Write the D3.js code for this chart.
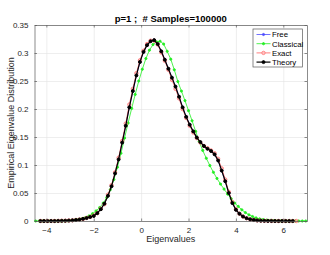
<html>
<head>
<meta charset="UTF-8"/>
<script src="https://d3js.org/d3.v7.min.js"></script>
<style>
body { margin: 0; background: #fff; }
svg { display: block; font-family: 'Liberation Sans', Arial, sans-serif; }
.grid line { stroke: #e3e3e3; stroke-width: 0.6; }
.grid path { stroke-width: 0; }
.ax path, .ax line { stroke: #5a5a5a; stroke-width: 0.7; }
.ax text { fill: #262626; font-size: 8px; }
text.title { white-space: pre; }
</style>
</head>
<body>
<svg width="330" height="255"></svg>
<script>
// bin centres for the sampled distributions
const binX = [-4.25,-4.10,-3.95,-3.80,-3.65,-3.50,-3.35,-3.20,-3.05,-2.90,-2.75,-2.60,-2.45,-2.30,-2.15,-2.00,
  -1.85,-1.70,-1.55,-1.40,-1.25,-1.10,-0.95,-0.80,-0.65,-0.50,-0.35,-0.20,-0.05,0.10,0.25,0.40,0.55,0.70,0.85,
  1.00,1.15,1.30,1.45,1.60,1.75,1.90,2.05,2.20,2.35,2.50,2.65,2.80,2.95,3.10,3.25,3.40,3.55,3.70,3.85,4.00,
  4.15,4.30,4.45,4.60,4.75,4.90,5.05,5.20,5.35,5.50,5.65,5.80,5.95,6.10,6.25,6.40,6.55];

const theory = [0,0,0,0,0,0.0002,0.0003,0.0005,0.0008,0.0012,0.0018,0.0026,0.0038,0.0053,0.0072,0.009,
  0.014,0.021,0.031,0.045,0.062,0.085,0.110,0.140,0.170,0.203,0.232,0.260,0.284,0.302,0.314,0.321,0.323,0.316,0.303,
  0.288,0.272,0.256,0.240,0.222,0.203,0.186,0.172,0.160,0.149,0.141,0.134,0.129,0.125,0.119,0.108,0.090,0.071,0.050,0.032,0.020,
  0.013,0.008,0.005,0.003,0.002,0.001,0.0006,0.0003,0.0002,0.0001,0,0,0,0,0,0,null];

const free = theory;

const exact = [0,0,0,0,0,0.0002,0.0004,0.0005,0.0009,0.0012,0.0019,0.0027,0.0037,0.0055,0.0073,0.010,
  0.014,0.022,0.030,0.047,0.064,0.087,0.113,0.143,0.174,0.208,0.236,0.264,0.287,0.304,0.316,0.322,0.322,0.315,0.301,
  0.286,0.270,0.252,0.236,0.219,0.200,0.184,0.170,0.158,0.148,0.140,0.134,0.130,0.126,0.121,0.111,0.094,0.074,0.052,0.034,0.021,
  0.013,0.008,0.005,0.003,0.002,0.001,0.0006,0.0003,0.0002,0.0001,0,0,0,0,0,0,0];

const classX = [-4.45,-4.30,-4.15,-4.00,-3.85,-3.70,-3.55,-3.40,-3.25,-3.10,-2.95,-2.80,-2.65,-2.50,-2.35,-2.20,
  -2.05,-1.90,-1.75,-1.60,-1.45,-1.30,-1.15,-1.00,-0.85,-0.70,-0.55,-0.40,-0.25,-0.10,0.05,0.20,0.35,0.50,0.65,
  0.80,0.95,1.10,1.25,1.40,1.55,1.70,1.85,2.00,2.15,2.30,2.45,2.60,2.75,2.90,3.05,3.20,3.35,3.50,3.65,3.80,
  3.95,4.10,4.25,4.40,4.55,4.70,4.85,5.00,5.15,5.30,5.45,5.60,5.75,5.90,6.05,6.20,6.35,6.50,6.65,6.80,6.95];

const classical = [0,0,0,0,0,0,0,0.0001,0.0002,0.0005,0.001,0.0016,0.0026,0.004,0.006,0.009,
  0.013,0.018,0.024,0.032,0.042,0.056,0.074,0.096,0.121,0.148,0.175,0.201,0.226,0.250,0.271,0.290,0.305,0.315,0.320,
  0.321,0.316,0.303,0.289,0.270,0.249,0.232,0.215,0.197,0.179,0.160,0.142,0.126,0.112,0.099,0.087,0.076,0.066,0.057,0.048,0.040,
  0.032,0.026,0.020,0.015,0.011,0.008,0.0055,0.0037,0.0025,0.0016,0.001,0.0006,0.0004,0.0002,0,0,0,0,0,0,0];

const xTicks = [-4, -2, 0, 2, 4, 6];
const yTicks = [0, 0.05, 0.1, 0.15, 0.2, 0.25, 0.3, 0.35];
const legendNames = ['Free', 'Classical', 'Exact', 'Theory'];

const svg = d3.select('svg');
const pLeft = 34.5, pRight = 307, pTop = 25, pBottom = 221;

const x = d3.scaleLinear().domain([-4.5, 7]).range([pLeft, pRight]);
const y = d3.scaleLinear().domain([0, 0.35]).range([pBottom, pTop]);

// grid
svg.append('g').attr('class', 'grid')
  .attr('transform', `translate(0,${pBottom})`)
  .call(d3.axisBottom(x).tickValues(xTicks).tickSize(-(pBottom - pTop)).tickFormat(''));
svg.append('g').attr('class', 'grid')
  .attr('transform', `translate(${pLeft},0)`)
  .call(d3.axisLeft(y).tickValues(yTicks).tickSize(-(pRight - pLeft)).tickFormat(''));

const series = [
  {xs: binX, ys: free, color: '#4d4dff', w: 0.8, r: 1.1, fill: '#4d4dff', op: 1},
  {xs: classX, ys: classical, color: '#22ee22', w: 0.8, r: 1.1, fill: '#22ee22', op: 1},
  {xs: binX, ys: exact, color: '#ff5555', w: 1.0, r: 1.7, fill: '#ffb0b0', op: 0.75},
  {xs: binX, ys: theory, color: '#000', w: 1.2, r: 1.5, fill: '#000', op: 1}
];

const line = d3.line()
  .x(d => x(d[0])).y(d => y(d[1]));

series.forEach(s => {
  const pts = s.xs.map((v, i) => [v, s.ys[i]]).filter(d => d[1] != null);
  const g = svg.append('g').attr('opacity', s.op);
  g.append('path').datum(pts)
    .attr('fill', 'none').attr('stroke', s.color).attr('stroke-width', s.w)
    .attr('d', line);
  g.selectAll('circle').data(pts).enter().append('circle')
    .attr('cx', d => x(d[0])).attr('cy', d => y(d[1])).attr('r', s.r)
    .attr('fill', s.fill).attr('stroke', s.color).attr('stroke-width', 0.9);
});

// axes (ticks inside, box on)
svg.append('g').attr('class', 'ax')
  .attr('transform', `translate(0,${pBottom})`)
  .call(d3.axisBottom(x).tickValues(xTicks).tickSizeInner(-2.5).tickSizeOuter(0).tickPadding(6)
    .tickFormat(d3.format('d')));
svg.append('g').attr('class', 'ax')
  .attr('transform', `translate(0,${pTop})`)
  .call(d3.axisTop(x).tickValues(xTicks).tickSizeInner(-2.5).tickSizeOuter(0).tickFormat(''));
svg.append('g').attr('class', 'ax')
  .attr('transform', `translate(${pLeft},0)`)
  .call(d3.axisLeft(y).tickValues(yTicks).tickSizeInner(-2.5).tickSizeOuter(0).tickPadding(6)
    .tickFormat(d => d === 0 ? '0' : String(+d.toFixed(2))));
svg.append('g').attr('class', 'ax')
  .attr('transform', `translate(${pRight},0)`)
  .call(d3.axisRight(y).tickValues(yTicks).tickSizeInner(-2.5).tickSizeOuter(0).tickFormat(''));

svg.selectAll('.ax text').attr('fill', '#262626');

// title and labels
svg.append('text').attr('class', 'title').attr('x', (pLeft + pRight) / 2).attr('y', 21.5)
  .attr('text-anchor', 'middle').attr('font-size', '9.5px').attr('font-weight', 'bold')
  .attr('fill', '#000').text('p=1 ;  # Samples=100000');
svg.append('text').attr('x', (pLeft + pRight) / 2).attr('y', 241.5)
  .attr('text-anchor', 'middle').attr('font-size', '9px').attr('fill', '#262626')
  .text('Eigenvalues');
svg.append('text').attr('transform', `translate(13.5,${(pTop + pBottom) / 2}) rotate(-90)`)
  .attr('text-anchor', 'middle').attr('font-size', '9px').attr('fill', '#262626')
  .text('Empirical Eigenvalue Distribution');

// legend
const lg = svg.append('g');
lg.append('rect').attr('x', 253).attr('y', 29).attr('width', 49.5).attr('height', 38)
  .attr('fill', '#fff').attr('stroke', '#5a5a5a').attr('stroke-width', 0.7);
legendNames.forEach((name, i) => {
  const s = series[i];
  const ly = 34.5 + i * 9.2;
  const g = lg.append('g').attr('opacity', s.op);
  g.append('line').attr('x1', 256.5).attr('x2', 270.5).attr('y1', ly).attr('y2', ly)
    .attr('stroke', s.color).attr('stroke-width', s.w);
  g.append('circle').attr('cx', 263.5).attr('cy', ly).attr('r', s.r)
    .attr('fill', s.fill).attr('stroke', s.color).attr('stroke-width', 0.9);
  lg.append('text').attr('x', 272).attr('y', ly + 2.8).attr('font-size', '7.8px')
    .attr('fill', '#000').text(name);
});
</script>
</body>
</html>
